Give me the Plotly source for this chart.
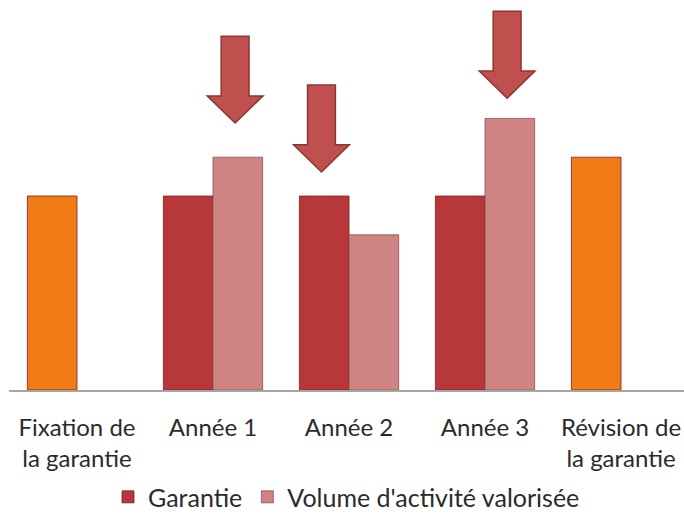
import plotly.graph_objects as go

categories = ["Fixation de<br>la garantie", "Année 1", "Année 2", "Année 3", "Révision de<br>la garantie"]
garantie = [5, 5, 5, 5, 6]
volume = [None, 6, 4, 7, None]
garantie_colors = ["#F07A16", "#B8373A", "#B8373A", "#B8373A", "#F07A16"]

# arrows: (category index, series slot -1 = Garantie / +1 = Volume, tip value)
arrow_cat = [1, 2, 3]
arrow_slot = [1, -1, 1]
arrow_tip = [6.88, 5.62, 7.52]

x = list(range(len(categories)))
fig = go.Figure()
fig.add_trace(go.Bar(name="Garantie", x=x, y=garantie, offsetgroup="g", showlegend=False,
                     marker=dict(color=garantie_colors, line=dict(color="#7a2020", width=0.8))))
fig.add_trace(go.Bar(name="Volume d'activité valorisée", x=x, y=volume, offsetgroup="v", legendrank=2,
                     marker=dict(color="#CF8383", line=dict(color="#8c5050", width=0.8))))
# legend entry for Garantie (red swatch)
fig.add_trace(go.Bar(name="Garantie", x=[None], y=[None], offsetgroup="g", legendrank=1,
                     marker=dict(color="#B8373A", line=dict(color="#7a2020", width=0.8))))

bargap = 0.27
bw = (1 - bargap) / 2
shaft_w = 0.205
head_w = 0.41
length = 2.24
head_h = 0.70
shapes = []
for c, s, tip in zip(arrow_cat, arrow_slot, arrow_tip):
    cx = c + s * bw / 2 - 0.02
    top = tip + length
    hs = tip + head_h
    path = (f"M {cx - shaft_w/2},{top} L {cx + shaft_w/2},{top} L {cx + shaft_w/2},{hs} "
            f"L {cx + head_w/2},{hs} L {cx},{tip} L {cx - head_w/2},{hs} L {cx - shaft_w/2},{hs} Z")
    shapes.append(dict(type="path", path=path, xref="x", yref="y",
                       fillcolor="#C0504D", line=dict(color="#8C3634", width=1.5), layer="above"))

fig.update_layout(
    width=684, height=514,
    margin=dict(l=9, r=0, t=2, b=124, autoexpand=False),
    barmode="group", bargap=bargap, bargroupgap=0,
    plot_bgcolor="white", paper_bgcolor="white",
    font=dict(family="Lato, 'Open Sans', sans-serif", size=24, color="#2b2b2b"),
    shapes=shapes,
    showlegend=True,
    legend=dict(orientation="h", x=0.5, xanchor="center", y=-0.276, yanchor="middle",
                font=dict(size=25), traceorder="normal", itemwidth=30),
)
fig.update_xaxes(range=[-0.5, 4.463], tickvals=x, ticktext=categories, automargin=False,
                 showline=True, linecolor="#A6A6A6", linewidth=2,
                 showgrid=False, zeroline=False, ticks="", ticklabelstandoff=15)
fig.update_yaxes(range=[0, 10], visible=False, showgrid=False, zeroline=False, automargin=False)

fig.write_html("out.html", config={"displayModeBar": False},
               post_script="document.body.style.margin='0';")
